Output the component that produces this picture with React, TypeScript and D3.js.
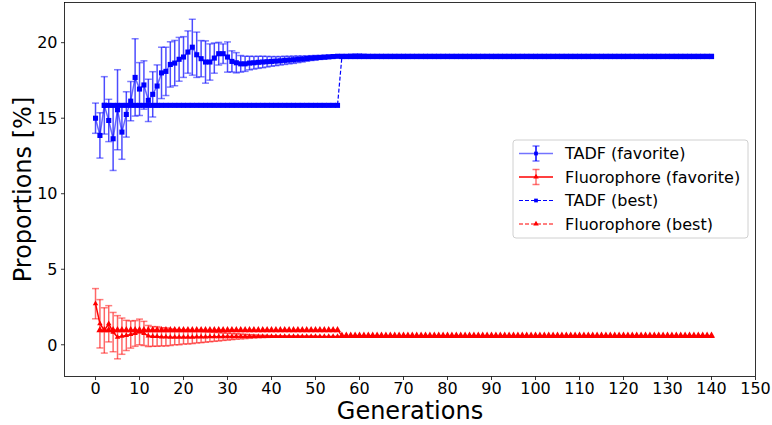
import React from "react";
import * as d3 from "d3";

// ---------- DATA ----------
const generations: number[] = Array.from({ length: 141 }, (_, i) => i);

const tadfFavorite: number[] = [
  15.0, 13.86, 15.85, 14.85, 13.64, 15.56, 14.08, 15.25, 16.13, 17.7,
  16.93, 17.2, 16.18, 16.58, 17.13, 18.0, 18.1, 18.56, 18.65, 18.9,
  19.05, 19.38, 19.7, 19.2, 18.94, 18.72, 18.72, 18.98, 19.27, 19.27,
  19.05, 18.76, 18.67, 18.6, 18.6, 18.65, 18.67, 18.7, 18.72, 18.74,
  18.76, 18.78, 18.8, 18.83, 18.85, 18.87, 18.9, 18.92, 18.95, 18.98,
  19.0, 19.02, 19.04, 19.06, 19.08, 19.1, 19.1, 19.1, 19.11, 19.12,
  19.12, 19.11, 19.1, 19.1, 19.1, 19.1, 19.1, 19.1, 19.1, 19.1,
  19.1, 19.1, 19.1, 19.1, 19.1, 19.1, 19.1, 19.1, 19.1, 19.1,
  19.1, 19.1, 19.1, 19.1, 19.1, 19.1, 19.1, 19.1, 19.1, 19.1,
  19.1, 19.1, 19.1, 19.1, 19.1, 19.1, 19.1, 19.1, 19.1, 19.1,
  19.1, 19.1, 19.1, 19.1, 19.1, 19.1, 19.1, 19.1, 19.1, 19.1,
  19.1, 19.1, 19.1, 19.1, 19.1, 19.1, 19.1, 19.1, 19.1, 19.1,
  19.1, 19.1, 19.1, 19.1, 19.1, 19.1, 19.1, 19.1, 19.1, 19.1,
  19.1, 19.1, 19.1, 19.1, 19.1, 19.1, 19.1, 19.1, 19.1, 19.1,
  19.1,
];

const tadfFavoriteErr: number[] = [
  1.0, 1.5, 1.9, 1.4, 2.1, 2.65, 1.8, 1.5, 1.3, 2.56,
  1.75, 1.6, 1.4, 1.5, 1.4, 1.7, 1.6, 1.5, 1.5, 1.45,
  1.35, 1.4, 1.85, 1.5, 1.2, 1.4, 1.2, 1.0, 0.75, 0.65,
  1.0, 0.7, 0.67, 0.55, 0.5, 0.45, 0.42, 0.4, 0.38, 0.35,
  0.32, 0.3, 0.28, 0.27, 0.25, 0.24, 0.22, 0.2, 0.18, 0.16,
  0.15, 0.13, 0.12, 0.1, 0.08, 0.07, 0.05, 0.05, 0.04, 0.04,
  0.03, 0.03, 0.03, 0.02, 0.02, 0.02, 0, 0, 0, 0,
  0, 0, 0, 0, 0, 0, 0, 0, 0, 0,
  0, 0, 0, 0, 0, 0, 0, 0, 0, 0,
  0, 0, 0, 0, 0, 0, 0, 0, 0, 0,
  0, 0, 0, 0, 0, 0, 0, 0, 0, 0,
  0, 0, 0, 0, 0, 0, 0, 0, 0, 0,
  0, 0, 0, 0, 0, 0, 0, 0, 0, 0,
  0, 0, 0, 0, 0, 0, 0, 0, 0, 0,
  0,
];

const fluoFavorite: number[] = [
  2.72, 1.39, 0.95, 1.39, 0.84, 0.5, 0.57, 0.62, 0.68, 0.75,
  0.85, 0.75, 0.58, 0.55, 0.55, 0.52, 0.52, 0.5, 0.5, 0.5,
  0.5, 0.5, 0.5, 0.52, 0.52, 0.52, 0.53, 0.53, 0.53, 0.54,
  0.54, 0.54, 0.55, 0.55, 0.55, 0.55, 0.55, 0.55, 0.55, 0.55,
  0.55, 0.55, 0.55, 0.55, 0.55, 0.55, 0.55, 0.55, 0.55, 0.55,
  0.55, 0.55, 0.55, 0.55, 0.55, 0.55, 0.55, 0.55, 0.55, 0.55,
  0.55, 0.55, 0.55, 0.55, 0.55, 0.55, 0.55, 0.55, 0.55, 0.55,
  0.55, 0.55, 0.55, 0.55, 0.55, 0.55, 0.55, 0.55, 0.55, 0.55,
  0.55, 0.55, 0.55, 0.55, 0.55, 0.55, 0.55, 0.55, 0.55, 0.55,
  0.55, 0.55, 0.55, 0.55, 0.55, 0.55, 0.55, 0.55, 0.55, 0.55,
  0.55, 0.55, 0.55, 0.55, 0.55, 0.55, 0.55, 0.55, 0.55, 0.55,
  0.55, 0.55, 0.55, 0.55, 0.55, 0.55, 0.55, 0.55, 0.55, 0.55,
  0.55, 0.55, 0.55, 0.55, 0.55, 0.55, 0.55, 0.55, 0.55, 0.55,
  0.55, 0.55, 0.55, 0.55, 0.55, 0.55, 0.55, 0.55, 0.55, 0.55,
  0.55,
];

const fluoFavoriteErr: number[] = [
  1.0, 1.6, 1.5, 1.2, 1.3, 1.43, 1.2, 1.0, 0.9, 0.85,
  0.85, 0.8, 0.7, 0.65, 0.65, 0.6, 0.6, 0.55, 0.5, 0.5,
  0.45, 0.45, 0.42, 0.4, 0.38, 0.35, 0.33, 0.3, 0.28, 0.25,
  0.23, 0.2, 0.18, 0.16, 0.14, 0.12, 0.1, 0.08, 0.07, 0.06,
  0.05, 0.04, 0.04, 0.03, 0.03, 0.02, 0.02, 0.02, 0.01, 0.01,
  0.01, 0, 0, 0, 0, 0, 0, 0, 0, 0,
  0, 0, 0, 0, 0, 0, 0, 0, 0, 0,
  0, 0, 0, 0, 0, 0, 0, 0, 0, 0,
  0, 0, 0, 0, 0, 0, 0, 0, 0, 0,
  0, 0, 0, 0, 0, 0, 0, 0, 0, 0,
  0, 0, 0, 0, 0, 0, 0, 0, 0, 0,
  0, 0, 0, 0, 0, 0, 0, 0, 0, 0,
  0, 0, 0, 0, 0, 0, 0, 0, 0, 0,
  0, 0, 0, 0, 0, 0, 0, 0, 0, 0,
  0,
];

const tadfBest: (number | null)[] = [
  null, null, 15.85, 15.85, 15.85, 15.85, 15.85, 15.85, 15.85, 15.85,
  15.85, 15.85, 15.85, 15.85, 15.85, 15.85, 15.85, 15.85, 15.85, 15.85,
  15.85, 15.85, 15.85, 15.85, 15.85, 15.85, 15.85, 15.85, 15.85, 15.85,
  15.85, 15.85, 15.85, 15.85, 15.85, 15.85, 15.85, 15.85, 15.85, 15.85,
  15.85, 15.85, 15.85, 15.85, 15.85, 15.85, 15.85, 15.85, 15.85, 15.85,
  15.85, 15.85, 15.85, 15.85, 15.85, 15.85, 19.08, 19.08, 19.08, 19.08,
  19.08, 19.08, 19.08, 19.08, 19.08, 19.08, 19.08, 19.08, 19.08, 19.08,
  19.08, 19.08, 19.08, 19.08, 19.08, 19.08, 19.08, 19.08, 19.08, 19.08,
  19.08, 19.08, 19.08, 19.08, 19.08, 19.08, 19.08, 19.08, 19.08, 19.08,
  19.08, 19.08, 19.08, 19.08, 19.08, 19.08, 19.08, 19.08, 19.08, 19.08,
  19.08, 19.08, 19.08, 19.08, 19.08, 19.08, 19.08, 19.08, 19.08, 19.08,
  19.08, 19.08, 19.08, 19.08, 19.08, 19.08, 19.08, 19.08, 19.08, 19.08,
  19.08, 19.08, 19.08, 19.08, 19.08, 19.08, 19.08, 19.08, 19.08, 19.08,
  19.08, 19.08, 19.08, 19.08, 19.08, 19.08, 19.08, 19.08, 19.08, 19.08,
  19.08,
];

const fluoBest: (number | null)[] = [
  null, 0.97, 0.97, 0.97, 0.97, 0.97, 0.97, 0.97, 0.97, 0.97,
  0.97, 0.97, 0.97, 0.97, 0.97, 0.97, 0.97, 0.97, 0.97, 0.97,
  0.97, 0.97, 0.97, 0.97, 0.97, 0.97, 0.97, 0.97, 0.97, 0.97,
  0.97, 0.97, 0.97, 0.97, 0.97, 0.97, 0.97, 0.97, 0.97, 0.97,
  0.97, 0.97, 0.97, 0.97, 0.97, 0.97, 0.97, 0.97, 0.97, 0.97,
  0.97, 0.97, 0.97, 0.97, 0.97, 0.97, 0.6, 0.6, 0.6, 0.6,
  0.6, 0.6, 0.6, 0.6, 0.6, 0.6, 0.6, 0.6, 0.6, 0.6,
  0.6, 0.6, 0.6, 0.6, 0.6, 0.6, 0.6, 0.6, 0.6, 0.6,
  0.6, 0.6, 0.6, 0.6, 0.6, 0.6, 0.6, 0.6, 0.6, 0.6,
  0.6, 0.6, 0.6, 0.6, 0.6, 0.6, 0.6, 0.6, 0.6, 0.6,
  0.6, 0.6, 0.6, 0.6, 0.6, 0.6, 0.6, 0.6, 0.6, 0.6,
  0.6, 0.6, 0.6, 0.6, 0.6, 0.6, 0.6, 0.6, 0.6, 0.6,
  0.6, 0.6, 0.6, 0.6, 0.6, 0.6, 0.6, 0.6, 0.6, 0.6,
  0.6, 0.6, 0.6, 0.6, 0.6, 0.6, 0.6, 0.6, 0.6, 0.6,
  0.6,
];

const xTicks: number[] = [0, 10, 20, 30, 40, 50, 60, 70, 80, 90, 100, 110, 120, 130, 140, 150];
const yTicks: number[] = [0, 5, 10, 15, 20];
const legendLabels: string[] = ["TADF (favorite)", "Fluorophore (favorite)", "TADF (best)", "Fluorophore (best)"];

// ---------- LAYOUT ----------
const W = 772;
const H = 425;
const PL = 64.5, PR = 755.5, PT = 2.5, PB = 376.5;
const FONT = "'DejaVu Sans', sans-serif";
const BLUE = "#0000ff";
const RED = "#ff0000";

export default function App() {
  const x = d3.scaleLinear().domain([-7.05, 150]).range([PL, PR]);
  const y = d3.scaleLinear().domain([-2.1, 22.66]).range([PB, PT]);

  const lineGen = d3
    .line<[number, number | null]>()
    .defined((d) => d[1] != null)
    .x((d) => x(d[0]))
    .y((d) => y(d[1] as number));

  const pairs = (vals: (number | null)[]) => generations.map((g, i) => [g, vals[i]] as [number, number | null]);

  const square = d3.symbol(d3.symbolSquare, 26)()!;
  const sqSmall = d3.symbol(d3.symbolSquare, 14)()!;
  const tri = d3.symbol(d3.symbolTriangle, 22)()!;
  const triSmall = d3.symbol(d3.symbolTriangle, 13)()!;

  const cap = 3.5;

  const errorBars = (vals: number[], errs: number[], color: string, op: number, capOp: number) =>
    generations.map((g, i) => {
      const e = errs[i];
      if (!e) return null;
      const cx = x(g);
      const y1 = y(vals[i] + e);
      const y2 = y(vals[i] - e);
      return (
        <g key={"e" + i} stroke={color} strokeWidth={1.5}>
          <line x1={cx} x2={cx} y1={y1} y2={y2} strokeOpacity={op} />
          <line x1={cx - cap} x2={cx + cap} y1={y1} y2={y1} strokeOpacity={capOp} />
          <line x1={cx - cap} x2={cx + cap} y1={y2} y2={y2} strokeOpacity={capOp} />
        </g>
      );
    });

  const markers = (vals: (number | null)[], path: string, color: string, keyp: string) =>
    generations.map((g, i) =>
      vals[i] == null ? null : (
        <path key={keyp + i} d={path} fill={color} transform={`translate(${x(g)},${y(vals[i] as number)})`} />
      )
    );

  // legend geometry
  const LX = 513, LY = 140, LW = 235, LH = 98;
  const rowY = [153.5, 177, 200.5, 224];
  const hx1 = 519, hx2 = 553, hm = 536, tx = 565;

  return (
    <svg width={W} height={H} style={{ position: "absolute", left: 0, top: 0, background: "#fff" }} fontFamily={FONT}>
      <rect x={0} y={0} width={W} height={H} fill="#fff" />

      {/* TADF favorite */}
      {errorBars(tadfFavorite, tadfFavoriteErr, BLUE, 0.7, 0.5)}
      <path d={lineGen(pairs(tadfFavorite))!} fill="none" stroke={BLUE} strokeOpacity={0.6} strokeWidth={1.5} />
      {markers(tadfFavorite, square, BLUE, "tf")}

      {/* Fluorophore favorite */}
      {errorBars(fluoFavorite, fluoFavoriteErr, RED, 0.6, 0.5)}
      <path d={lineGen(pairs(fluoFavorite))!} fill="none" stroke={RED} strokeWidth={1.5} />
      {markers(fluoFavorite, triSmall, RED, "ff")}

      {/* TADF best */}
      <path d={lineGen(pairs(tadfBest))!} fill="none" stroke={BLUE} strokeWidth={1.2} strokeDasharray="4,2" />
      {markers(tadfBest, square, BLUE, "tb")}

      {/* Fluorophore best */}
      <path d={lineGen(pairs(fluoBest))!} fill="none" stroke={RED} strokeWidth={1.2} strokeDasharray="4,2" />
      {markers(fluoBest, tri, RED, "fb")}

      {/* frame */}
      <rect x={PL} y={PT} width={PR - PL} height={PB - PT} fill="none" stroke="#000" strokeWidth={0.8} />

      {/* x axis ticks */}
      {xTicks.map((t) => (
        <g key={"xt" + t}>
          <line x1={x(t)} x2={x(t)} y1={PB} y2={PB + 3.5} stroke="#000" strokeWidth={0.8} />
          <text x={x(t)} y={394} textAnchor="middle" fontSize={16} fill="#000">
            {t}
          </text>
        </g>
      ))}
      {/* y axis ticks */}
      {yTicks.map((t) => (
        <g key={"yt" + t}>
          <line x1={PL - 3.5} x2={PL} y1={y(t)} y2={y(t)} stroke="#000" strokeWidth={0.8} />
          <text x={PL - 7} y={y(t)} dy="0.36em" textAnchor="end" fontSize={16} fill="#000">
            {t}
          </text>
        </g>
      ))}

      <text x={(PL + PR) / 2} y={419} textAnchor="middle" fontSize={24} fill="#000">
        Generations
      </text>
      <text
        transform={`translate(31,${(PT + PB) / 2}) rotate(-90)`}
        textAnchor="middle"
        fontSize={24}
        fill="#000"
      >
        Proportions [%]
      </text>

      {/* legend */}
      <rect x={LX} y={LY} width={LW} height={LH} rx={3} fill="#fff" fillOpacity={0.8} stroke="#d0d0d0" strokeWidth={1} />
      {/* row 1 */}
      <line x1={hx1} x2={hx2} y1={rowY[0]} y2={rowY[0]} stroke={BLUE} strokeOpacity={0.55} strokeWidth={1.5} />
      <line x1={hm} x2={hm} y1={rowY[0] - 7.5} y2={rowY[0] + 7.5} stroke={BLUE} strokeWidth={1.5} />
      <line x1={hm - cap} x2={hm + cap} y1={rowY[0] - 7.5} y2={rowY[0] - 7.5} stroke={BLUE} strokeOpacity={0.55} strokeWidth={1.5} />
      <line x1={hm - cap} x2={hm + cap} y1={rowY[0] + 7.5} y2={rowY[0] + 7.5} stroke={BLUE} strokeOpacity={0.55} strokeWidth={1.5} />
      <path d={sqSmall} fill={BLUE} transform={`translate(${hm},${rowY[0]})`} />
      {/* row 2 */}
      <line x1={hx1} x2={hx2} y1={rowY[1]} y2={rowY[1]} stroke={RED} strokeWidth={1.5} />
      <line x1={hm} x2={hm} y1={rowY[1] - 7.5} y2={rowY[1] + 7.5} stroke={RED} strokeOpacity={0.55} strokeWidth={1.5} />
      <line x1={hm - cap} x2={hm + cap} y1={rowY[1] - 7.5} y2={rowY[1] - 7.5} stroke={RED} strokeOpacity={0.55} strokeWidth={1.5} />
      <line x1={hm - cap} x2={hm + cap} y1={rowY[1] + 7.5} y2={rowY[1] + 7.5} stroke={RED} strokeOpacity={0.55} strokeWidth={1.5} />
      <path d={triSmall} fill={RED} transform={`translate(${hm},${rowY[1]})`} />
      {/* row 3 */}
      <line x1={hx1} x2={hx2} y1={rowY[2]} y2={rowY[2]} stroke={BLUE} strokeWidth={1.2} strokeDasharray="4,2" />
      <path d={sqSmall} fill={BLUE} transform={`translate(${hm},${rowY[2]})`} />
      {/* row 4 */}
      <line x1={hx1} x2={hx2} y1={rowY[3]} y2={rowY[3]} stroke={RED} strokeWidth={1.2} strokeDasharray="4,2" />
      <path d={triSmall} fill={RED} transform={`translate(${hm},${rowY[3]})`} />
      {legendLabels.map((l, i) => (
        <text key={l} x={tx} y={rowY[i]} dy="0.36em" fontSize={16} fill="#000">
          {l}
        </text>
      ))}
    </svg>
  );
}
